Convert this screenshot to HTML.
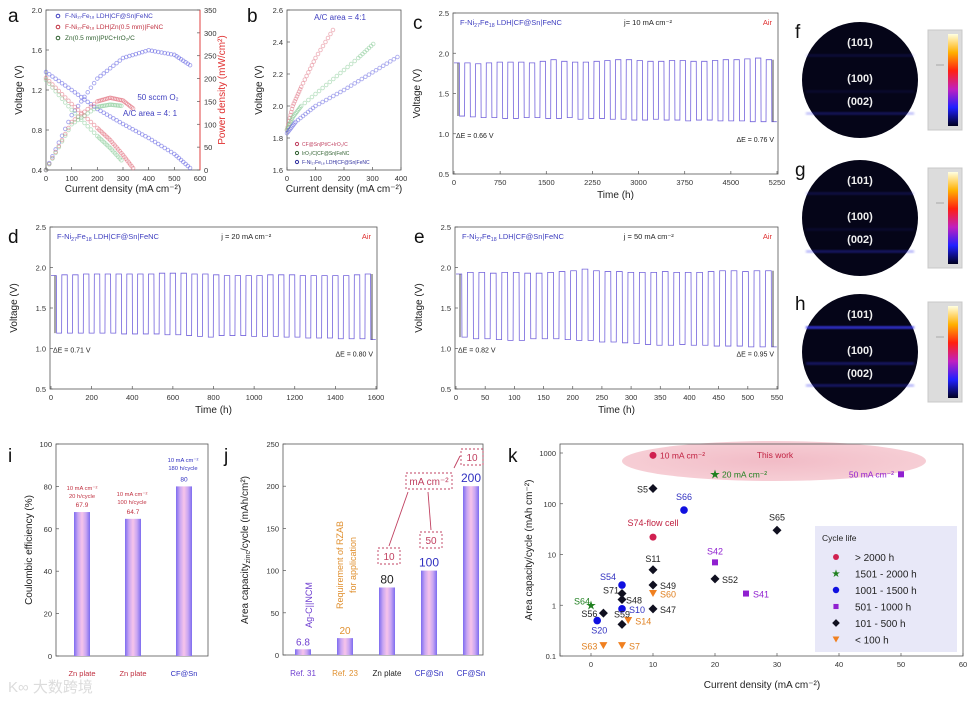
<!DOCTYPE html>
<html><head><meta charset="utf-8">
<style>
html,body{margin:0;padding:0;background:#fff;}
svg{display:block;font-family:"Liberation Sans","Noto Sans CJK SC",sans-serif;}
</style></head>
<body>
<svg id="fig" width="976" height="702" viewBox="0 0 976 702">
<defs>
<linearGradient id="barg" x1="0" x2="1" y1="0" y2="0">
<stop offset="0" stop-color="#7d6cf0"/><stop offset="0.25" stop-color="#c9a6f2"/><stop offset="0.5" stop-color="#f7c4ea"/><stop offset="0.75" stop-color="#c9a6f2"/><stop offset="1" stop-color="#7d6cf0"/>
</linearGradient>
<linearGradient id="cbar" x1="0" x2="0" y1="1" y2="0">
<stop offset="0" stop-color="#000020"/><stop offset="0.2" stop-color="#2020ff"/><stop offset="0.4" stop-color="#c020c0"/><stop offset="0.6" stop-color="#ff2010"/><stop offset="0.8" stop-color="#ffb000"/><stop offset="1" stop-color="#ffffe0"/>
</linearGradient>
<radialGradient id="ell" cx="0.5" cy="0.5" r="0.5"><stop offset="0" stop-color="#f0b4c0"/><stop offset="1" stop-color="#f5c8d0"/></radialGradient>
<filter id="blur"><feGaussianBlur stdDeviation="1"/></filter>
</defs>
<g id="root"></g>
</svg>
<script>
// ---------- DATA ----------
const aX = [0,100,200,300,400,500,570];
const aBlueV = [1.38,1.20,1.01,0.86,0.72,0.56,0.40];
const aBlueP = [0,120,200,245,262,252,226];
const aRedX = [0,100,200,250,300,345];
const aRedV = [1.32,1.06,0.82,0.70,0.55,0.40];
const aRedP = [0,105,150,158,152,132];
const aGreenX = [0,100,200,250,300];
const aGreenV = [1.30,1.00,0.74,0.62,0.48];
const aGreenP = [0,100,138,143,140];
const aXTicks = [0,100,200,300,400,500,600];
const aYTicks = [0.4,0.8,1.2,1.6,2.0];
const aY2Ticks = [0,50,100,150,200,250,300,350];
const bRedX = [0,20,50,100,170];
const bRedV = [1.85,2.0,2.12,2.3,2.5];
const bGreenX = [0,20,50,150,250,310];
const bGreenV = [1.85,1.93,2.0,2.15,2.3,2.4];
const bBlueX = [0,30,100,200,300,400];
const bBlueV = [1.83,1.9,2.0,2.1,2.21,2.32];
const bXTicks = [0,100,200,300,400];
const bYTicks = [1.6,1.8,2.0,2.2,2.4,2.6];
const cUp = [1.88,1.88,1.87,1.88,1.89,1.89,1.89,1.88,1.9,1.92,1.9,1.89,1.89,1.9,1.91,1.92,1.92,1.91,1.9,1.9,1.91,1.91,1.9,1.9,1.91,1.92,1.92,1.93,1.94,1.92];
const cLow = [1.22,1.21,1.2,1.2,1.19,1.19,1.2,1.2,1.19,1.19,1.2,1.18,1.19,1.19,1.18,1.18,1.17,1.17,1.18,1.17,1.17,1.16,1.17,1.17,1.16,1.16,1.16,1.15,1.15,1.15];
const cXTicks = [0,750,1500,2250,3000,3750,4500,5250];
const dUp = [1.9,1.91,1.91,1.92,1.92,1.92,1.92,1.92,1.92,1.92,1.93,1.93,1.93,1.92,1.92,1.91,1.9,1.9,1.9,1.9,1.91,1.91,1.91,1.9,1.9,1.9,1.9,1.9,1.91,1.92];
const dLow = [1.19,1.19,1.19,1.19,1.19,1.19,1.18,1.18,1.18,1.18,1.17,1.17,1.16,1.15,1.14,1.16,1.16,1.16,1.15,1.15,1.15,1.14,1.14,1.13,1.13,1.13,1.12,1.12,1.12,1.11];
const dXTicks = [0,200,400,600,800,1000,1200,1400,1600];
const eUp = [1.92,1.94,1.94,1.93,1.94,1.94,1.93,1.93,1.94,1.95,1.96,1.98,1.96,1.95,1.95,1.94,1.94,1.94,1.95,1.94,1.94,1.94,1.95,1.96,1.96,1.95,1.96,1.96];
const eLow = [1.14,1.12,1.12,1.11,1.1,1.1,1.12,1.12,1.12,1.11,1.1,1.1,1.08,1.08,1.07,1.06,1.05,1.04,1.04,1.05,1.04,1.04,1.03,1.03,1.03,1.02,1.02,1.02];
const eXTicks = [0,50,100,150,200,250,300,350,400,450,500,550];
const vTicks = [0.5,1.0,1.5,2.0,2.5];
const iCats = ["Zn plate","Zn plate","CF@Sn"];
const iVals = [67.9,64.7,80];
const iTicks = [0,20,40,60,80,100];
const jCats = ["Ref. 31","Ref. 23","Zn plate","CF@Sn","CF@Sn"];
const jVals = [6.8,20,80,100,200];
const jTicks = [0,50,100,150,200,250];
const kNames = ["S5","S66","S74-flow cell","S65","S42","S11","S52","S54","S49","S71","S60","S41","S48","S64","S10","S47","S56","S20","S14","S59","S63","S7"];
const kX = [10,15,10,30,20,10,20,5,10,5,10,25,5,0,5,10,2,1,6,5,2,5];
const kY = [200,75,22,30,7,5,3.3,2.5,2.5,1.7,1.7,1.7,1.3,1.0,0.85,0.85,0.7,0.5,0.5,0.42,0.16,0.16];
const kCat = [4,2,0,4,3,4,4,2,4,4,5,3,4,1,2,4,4,2,5,4,5,5];
const kWorkX = [10,20,50];
const kWorkY = [900,380,380];
const kXTicks = [0,10,20,30,40,50,60];
const kYTicks = [0.1,1,10,100,1000];

// ---------- helpers ----------
const NS="http://www.w3.org/2000/svg";
const root=document.getElementById('root');
function el(tag,attrs,parent){const e=document.createElementNS(NS,tag);for(const k in attrs)e.setAttribute(k,attrs[k]);(parent||root).appendChild(e);return e;}
function txt(x,y,s,size,fill,anchor,extra){const t=el('text',Object.assign({x:x,y:y,'font-size':size,fill:fill||'#222','text-anchor':anchor||'middle'},extra||{}));t.textContent=s;return t;}
function lin(d0,d1,r0,r1){return v=>r0+(v-d0)*(r1-r0)/(d1-d0);}
function frame(x0,y0,x1,y1,name){const r=el('rect',{x:x0,y:y0,width:x1-x0,height:y1-y0,fill:'none',stroke:'#555','stroke-width':0.8});return r;}
function label(x,y,s){const t=txt(x,y,s,19,'#111','start');}
function xticks(ticks,sx,y,fmt){ticks.forEach(v=>{const x=sx(v);el('line',{x1:x,x2:x,y1:y,y2:y-3,stroke:'#555','stroke-width':0.7});const t=txt(x,y+11,fmt?fmt(v):String(v),7.5,'#333');});}
function yticks(ticks,sy,x,fmt,right){ticks.forEach(v=>{const y=sy(v);el('line',{x1:x,x2:right?x-3:x+3,y1:y,y2:y,stroke:'#555','stroke-width':0.7});const t=txt(right?x+4:x-4,y+3,fmt?fmt(v):String(v),7.5,'#333',right?'start':'end');});}
function ytitle(x,y,s,size,fill){const t=txt(x,y,s,size||10,fill||'#222','middle',{transform:'rotate(-90 '+x+' '+y+')'});return t;}
function xtitle(x,y,s){const t=txt(x,y,s,10,'#222');return t;}
function dots(xs,ys,sx,sy,color,name){xs.forEach((v,i)=>{if(i===xs.length-1)return;const n=8;for(let k=0;k<n;k++){const f=k/n;const c=el('circle',{cx:sx(v+(xs[i+1]-v)*f),cy:sy(ys[i]+(ys[i+1]-ys[i])*f),r:1.8,fill:'none',stroke:color,'stroke-width':0.9,opacity:0.5});}});}
function sub(t,parts){parts.forEach(p=>{const ts=el('tspan',p.s?{'font-size':'70%',dy:p.dy||2}:{dy:p.dy||0},t);ts.textContent=p.t;});}

// ---------- panel a ----------
{const sx=lin(0,600,46,200),sy=lin(0.4,2.0,170,10),sp=lin(0,350,170,10);
frame(46,10,200,170,'panel-a-plot-area');label(8,22,'a');
dots(aX,aBlueV,sx,sy,'#5050e0','series-blue-voltage');dots(aX,aBlueP,sx,sp,'#5050e0','series-blue-power');
dots(aRedX,aRedV,sx,sy,'#e06070','series-red-voltage');dots(aRedX,aRedP,sx,sp,'#e06070','series-red-power');
dots(aGreenX,aGreenV,sx,sy,'#80c890','series-green-voltage');dots(aGreenX,aGreenP,sx,sp,'#80c890','series-green-power');
xticks(aXTicks,sx,170);yticks(aYTicks,sy,46,v=>v.toFixed(1));yticks(aY2Ticks,sp,200,null,true);
el('line',{x1:200,x2:200,y1:10,y2:170,stroke:'#e04040','stroke-width':1});
ytitle(22,90,'Voltage (V)');ytitle(225,90,'Power density (mW/cm²)',10,'#e03030');
xtitle(123,192,'Current density (mA cm⁻²)');
[['F-Ni₂₇Fe₁₈ LDH|CF@Sn|FeNC','#4040c0',18],['F-Ni₂₇Fe₁₈ LDH|Zn(0.5 mm)|FeNC','#c03040',29],['Zn(0.5 mm)|Pt/C+IrO₂/C','#306030',40]].forEach((l,i)=>{const c=el('circle',{cx:58,cy:l[2]-2,r:1.8,fill:'none',stroke:l[1]});const t=txt(65,l[2],l[0],6.5,l[1],'start');});
const t1=txt(158,100,'50 sccm O₂',8,'#4040c0');
const t2=txt(150,116,'A/C area = 4: 1',8,'#4040c0');}

// ---------- panel b ----------
{const sx=lin(0,400,287,401),sy=lin(1.6,2.6,170,10);
frame(287,10,401,170,'panel-b-plot-area');label(247,22,'b');
dots(bRedX,bRedV,sx,sy,'#e07080','series-red');dots(bGreenX,bGreenV,sx,sy,'#80c890','series-green');dots(bBlueX,bBlueV,sx,sy,'#6060e0','series-blue');
xticks(bXTicks,sx,170);yticks(bYTicks,sy,287,v=>v.toFixed(1));
ytitle(262,90,'Voltage (V)');xtitle(344,192,'Current density (mA cm⁻²)');
const ta=txt(340,20,'A/C area = 4:1',8,'#4040c0');
[['CF@Sn|Pt/C+IrO₂/C','#c04060',146],['IrO₂/C|CF@Sn|FeNC','#306030',155],['F-Ni₂₇Fe₁₈ LDH|CF@Sn|FeNC','#3030a0',164]].forEach(l=>{const c=el('circle',{cx:297,cy:l[2]-2,r:1.6,fill:'none',stroke:l[1]});const t=txt(302,l[2],l[0],5,l[1],'start');});}

// ---------- cycling panels ----------
function cycling(box,tmax,up,low,ticks,letter,lx,jtxt,dE1,dE2,name){
 const [x0,y0,x1,y1]=box;const sx=lin(0,tmax,x0+1,x1-1),sy=lin(0.5,2.5,y1,y0);
 frame(x0,y0,x1,y1,name+'-plot-area');label(lx,y0+16,letter);
 const T=tmax/up.length;let d='';
 up.forEach((u,i)=>{const t0=i*T;d+=(i?'L':'M')+sx(t0)+','+sy(u)+'L'+sx(t0+T*0.5)+','+sy(u)+'L'+sx(t0+T*0.52)+','+sy(low[i])+'L'+sx(t0+T*0.98)+','+sy(low[i]);});
 const p=el('path',{d:d,fill:'none',stroke:'#7464dc','stroke-width':0.8});
 xticks(ticks,sx,y1);yticks(vTicks,sy,x0,v=>v.toFixed(1));
 ytitle(x0-33,(y0+y1)/2,'Voltage (V)');xtitle((x0+x1)/2,y1+24,'Time (h)');
 const a=el('line',{x1:x0+5,x2:x0+5,y1:sy(up[0]),y2:sy(low[0]),stroke:'#222','stroke-width':0.8});
 const b=el('line',{x1:x1-5,x2:x1-5,y1:sy(up[up.length-1]),y2:sy(low[low.length-1]),stroke:'#222','stroke-width':0.8});
 const t=txt(x0+7,y0+12,'',7.5,'#4040c0','start');sub(t,[{t:'F-Ni'},{t:'27',s:1},{t:'Fe',dy:-2},{t:'18',s:1},{t:' LDH|CF@Sn|FeNC',dy:-2}]);
 const tj=txt(x0+(x1-x0)*0.6,y0+12,jtxt,7.5,'#222');
 const tair=txt(x1-6,y0+12,'Air',7.5,'#e03030','end');
 const e1=txt(x0+3,sy(0.95),dE1,7,'#222','start');
 const e2=txt(x1-4,sy(0.9),dE2,7,'#222','end');
}
cycling([453,13,778,174],5250,cUp,cLow,cXTicks,'c',413,'j= 10 mA cm⁻²','ΔE = 0.66 V','ΔE = 0.76 V','panel-c');
cycling([50,227,377,389],1600,dUp,dLow,dXTicks,'d',8,'j = 20 mA cm⁻²','ΔE = 0.71 V','ΔE = 0.80 V','panel-d');
cycling([455,227,778,389],550,eUp,eLow,eXTicks,'e',414,'j = 50 mA cm⁻²','ΔE = 0.82 V','ΔE = 0.95 V','panel-e');

// ---------- heatmaps f g h ----------
[['f',80,[0.15,0.1,0.3]],['g',218,[0.2,0.1,0.35]],['h',352,[0.85,0.35,0.35]]].forEach(([L,cy,st])=>{
 label(795,cy-42,L);
 const c=el('circle',{cx:860,cy:cy,r:58,fill:'#050518'});
 [-26,10,32].forEach((dy,i)=>{const r=el('rect',{x:806,y:cy+dy,width:108,height:3,fill:'#3a3af0',opacity:st[i],filter:'url(#blur)'});});
 ['(101)','(100)','(002)'].forEach((s,i)=>{const t=txt(860,cy+[-34,2,25][i],s,11,'#f0f0f0','middle',{'font-weight':'bold'});});
 const b=el('rect',{x:928,y:cy-50,width:34,height:100,fill:'#dcdcdc',stroke:'#c8c8c8'});
 el('rect',{x:948,y:cy-46,width:10,height:92,fill:'url(#cbar)'});
 el('line',{x1:936,x2:944,y1:cy-15,y2:cy-15,stroke:'#888','stroke-width':0.6});
});

// ---------- panel i ----------
{const sx=i=>82+i*51,sy=lin(0,100,656,444);
frame(56,444,208,656,'panel-i-plot-area');label(8,462,'i');
iVals.forEach((v,i)=>{const r=el('rect',{x:sx(i)-8,y:sy(v),width:16,height:656-sy(v),fill:'url(#barg)'});
 const t=txt(sx(i),sy(v)-5,v.toFixed(v%1?1:0),6.5,i<2?'#c03040':'#3030c0');
 const c=txt(sx(i),676,iCats[i],7.5,i<2?'#c03040':'#3030c0');});
[['10 mA cm⁻²',82,490],['20 h/cycle',82,498],['10 mA cm⁻²',132,496],['100 h/cycle',132,504],['10 mA cm⁻²',183,462],['180 h/cycle',183,470]].forEach((a,k)=>{const t=txt(a[1],a[2],a[0],5.8,k<4?'#c03040':'#3030c0');});
yticks(iTicks,sy,56);ytitle(32,550,'Coulombic efficiency (%)');}

// ---------- panel j ----------
{const sx=i=>303+i*42,sy=lin(0,250,655,444);
frame(283,444,483,655,'panel-j-plot-area');label(224,462,'j');
const cols=['#7040d0','#e09030','#222','#3030c0','#3030c0'];
jVals.forEach((v,i)=>{const r=el('rect',{x:sx(i)-8,y:sy(v),width:16,height:655-sy(v),fill:'url(#barg)'});
 const t=txt(sx(i),sy(v)-4,String(v),i<2?10:12,cols[i]);
 const c=txt(sx(i),676,jCats[i],8,cols[i]);});
yticks(jTicks,sy,283);
const yt=ytitle(248,550,'',10);sub(yt,[{t:'Area capacity'},{t:'zinc',s:1},{t:'/cycle (mAh/cm²)',dy:-2}]);
const r1=txt(312,605,'Ag-C||NCM',9,'#7040d0','middle',{transform:'rotate(-90 312 605)'});
const r2=txt(343,565,'Requirement of RZAB',9,'#e09030','middle',{transform:'rotate(-90 343 565)'});
const r3=txt(356,565,'for application',9,'#e09030','middle',{transform:'rotate(-90 356 565)'});
[[378,548,22,16,'10'],[420,532,22,16,'50'],[406,473,46,16,'mA cm⁻²'],[461,449,22,16,'10']].forEach(b=>{const r=el('rect',{x:b[0],y:b[1],width:b[2],height:b[3],fill:'none',stroke:'#c04060','stroke-dasharray':'2,2','stroke-width':0.9});const t=txt(b[0]+b[2]/2,b[1]+12,b[4],10,'#c04060');});
[[389,546,408,492],[431,530,428,492],[460,456,454,468]].forEach(a=>{const l=el('line',{x1:a[0],y1:a[1],x2:a[2],y2:a[3],stroke:'#c04060','stroke-width':0.9});});}

// ---------- panel k ----------
{const sx=lin(0,60,591,963),sy=v=>656-(Math.log10(v)+1)*50.75;
const e=el('ellipse',{cx:774,cy:461,rx:152,ry:20,fill:'url(#ell)',opacity:0.9});
frame(560,444,963,656,'panel-k-plot-area');label(508,462,'k');
const lg=el('rect',{x:815,y:526,width:142,height:126,fill:'#e8e8f8'});
const catCol=['#d02050','#208020','#1010e0','#9020d0','#101020','#f08020'];
const labCol=['#c02040','#208020','#3030c0','#9020d0','#222','#e08020'];
function marker(x,y,c,s){let m;
 if(c===0)m=el('circle',{cx:x,cy:y,r:3.5*s,fill:catCol[0]});
 else if(c===1)m=el('text',{x:x,y:y+3.5*s,'font-size':10*s,fill:catCol[1],'text-anchor':'middle'});
 else if(c===2)m=el('circle',{cx:x,cy:y,r:3.8*s,fill:catCol[2]});
 else if(c===3)m=el('rect',{x:x-3*s,y:y-3*s,width:6*s,height:6*s,fill:catCol[3]});
 else if(c===4)m=el('path',{d:'M'+x+','+(y-4.5*s)+'l'+4.5*s+','+4.5*s+'l'+(-4.5*s)+','+4.5*s+'l'+(-4.5*s)+','+(-4.5*s)+'z',fill:catCol[4]});
 else m=el('path',{d:'M'+(x-4*s)+','+(y-3.5*s)+'h'+8*s+'l'+(-4*s)+','+7*s+'z',fill:catCol[5]});
 if(c===1)m.textContent='★';return m;}
const offs={S5:[-5,4,'end'],S66:[0,-10,'middle'],'S74-flow cell':[0,-11,'middle'],S65:[0,-10,'middle'],S42:[0,-8,'middle'],S11:[0,-8,'middle'],S52:[7,4,'start'],S54:[-6,-5,'end'],S49:[7,4,'start'],S71:[-3,0,'end'],S60:[7,4,'start'],S41:[7,4,'start'],S48:[4,4,'start'],S64:[-1,-1,'end'],S10:[7,4,'start'],S47:[7,4,'start'],S56:[-6,4,'end'],S20:[2,13,'middle'],S14:[7,4,'start'],S59:[0,-7,'middle'],S63:[-6,4,'end'],S7:[7,4,'start']};
kNames.forEach((n,i)=>{const x=sx(kX[i]),y=sy(kY[i]);const m=marker(x,y,kCat[i],1);
 const o=offs[n];const t=txt(x+o[0],y+o[1],n,9,labCol[kCat[i]],o[2]);});
const wl=['10 mA cm⁻²','20 mA cm⁻²','50 mA cm⁻²'];
kWorkX.forEach((v,i)=>{const x=sx(v),y=sy(kWorkY[i]);const m=marker(x,y,[0,1,3][i],1);
 const t=txt(i<2?x+7:x-7,y+3,wl[i],8.5,labCol[[0,1,3][i]],i<2?'start':'end');});
const tw=txt(775,458,'This work',8.5,'#c02040');
xticks([-5].concat(kXTicks),sx,656,v=>v===-5?'':String(v));
yticks(kYTicks,sy,560,v=>String(v));
ytitle(532,550,'Area capacity/cycle (mAh cm⁻²)');xtitle(762,688,'Current density (mA cm⁻²)');
const lt=txt(822,541,'Cycle life',8.5,'#222','start');
['> 2000 h','1501 - 2000 h','1001 - 1500 h','501 - 1000 h','101 - 500 h','< 100 h'].forEach((s,i)=>{const y=557+i*16.5;const m=marker(836,y,i,0.85);const t=txt(855,y+4,s,10,'#222','start');});}

{const t=txt(8,692,'K∞ 大数跨境',15,'#dcdcdc','start');}
</script>
</body></html>
